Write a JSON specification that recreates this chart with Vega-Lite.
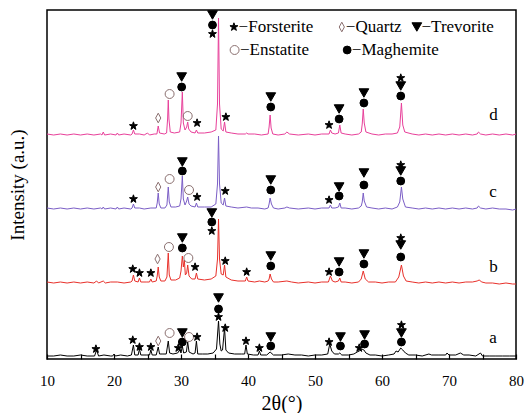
{
  "$schema": "https://vega.github.io/schema/vega-lite/v6.json",
  "width": 469,
  "height": 349,
  "autosize": {"type": "none"},
  "padding": {"left": 47, "top": 10, "right": 15, "bottom": 54},
  "background": "white",
  "config": {
    "view": {"stroke": "black", "strokeWidth": 1.5},
    "font": "Liberation Serif"
  },
  "datasets": {
    "d": [
      {"x":10,"y":225},{"x":11,"y":224},{"x":12,"y":225},{"x":13,"y":224},{"x":14,"y":225},{"x":15,"y":224},{"x":16,"y":225},{"x":17,"y":224},{"x":18,"y":225},{"x":18.2,"y":224},{"x":18.4,"y":227},{"x":18.6,"y":224},{"x":19.5,"y":225},{"x":20.3,"y":224},{"x":20.5,"y":226},{"x":20.7,"y":224},{"x":21.5,"y":225},{"x":22.5,"y":224},{"x":22.7,"y":225},{"x":22.9,"y":229},{"x":23.1,"y":225},{"x":23.8,"y":225},{"x":24.5,"y":224},{"x":25.0,"y":226},{"x":25.3,"y":224},{"x":26.0,"y":225},{"x":26.4,"y":225},{"x":26.6,"y":233},{"x":26.8,"y":226},{"x":27.5,"y":225},{"x":27.85,"y":226},{"x":28.0,"y":240},{"x":28.1,"y":259},{"x":28.2,"y":240},{"x":28.4,"y":227},{"x":29.0,"y":226},{"x":29.8,"y":227},{"x":30.0,"y":236},{"x":30.2,"y":267},{"x":30.35,"y":236},{"x":30.6,"y":229},{"x":30.85,"y":232},{"x":31.0,"y":237},{"x":31.15,"y":230},{"x":31.5,"y":227},{"x":32.1,"y":226},{"x":32.3,"y":229},{"x":32.5,"y":226},{"x":33.5,"y":226},{"x":34.5,"y":227},{"x":35.2,"y":229},{"x":35.45,"y":255},{"x":35.6,"y":341},{"x":35.75,"y":255},{"x":36.0,"y":230},{"x":36.3,"y":228},{"x":36.5,"y":237},{"x":36.7,"y":227},{"x":37.5,"y":226},{"x":38.5,"y":225},{"x":39.6,"y":225},{"x":39.8,"y":226},{"x":40.0,"y":225},{"x":41.0,"y":225},{"x":42.0,"y":224},{"x":43.0,"y":225},{"x":43.15,"y":232},{"x":43.3,"y":244},{"x":43.45,"y":231},{"x":43.7,"y":225},{"x":44.5,"y":224},{"x":45.5,"y":225},{"x":45.8,"y":227},{"x":46.2,"y":225},{"x":47.5,"y":224},{"x":49,"y":225},{"x":50,"y":224},{"x":51,"y":225},{"x":52.1,"y":225},{"x":52.3,"y":229},{"x":52.5,"y":226},{"x":53.0,"y":225},{"x":53.5,"y":226},{"x":53.7,"y":234},{"x":53.9,"y":226},{"x":54.5,"y":225},{"x":55.5,"y":224},{"x":56.5,"y":225},{"x":56.9,"y":227},{"x":57.05,"y":235},{"x":57.2,"y":250},{"x":57.35,"y":236},{"x":57.6,"y":227},{"x":58.5,"y":225},{"x":59.5,"y":224},{"x":60.5,"y":225},{"x":61.5,"y":225},{"x":62.3,"y":226},{"x":62.65,"y":232},{"x":62.9,"y":256},{"x":63.1,"y":234},{"x":63.4,"y":227},{"x":64.5,"y":225},{"x":65.5,"y":224},{"x":66.5,"y":225},{"x":67.5,"y":224},{"x":68.5,"y":225},{"x":69.5,"y":224},{"x":70.5,"y":225},{"x":71.5,"y":224},{"x":72.5,"y":225},{"x":73.5,"y":224},{"x":74.2,"y":225},{"x":74.4,"y":227},{"x":74.7,"y":225},{"x":75.5,"y":224},{"x":76.5,"y":225},{"x":77.5,"y":224},{"x":78.5,"y":225},{"x":79.5,"y":224},{"x":80,"y":225}
    ],
    "c": [
      {"x":10,"y":151},{"x":11,"y":150},{"x":12,"y":151},{"x":13,"y":150},{"x":14,"y":151},{"x":15,"y":150},{"x":16,"y":151},{"x":17,"y":150},{"x":18,"y":151},{"x":18.2,"y":150},{"x":18.4,"y":152},{"x":18.6,"y":150},{"x":19.5,"y":151},{"x":20.3,"y":150},{"x":20.5,"y":152},{"x":20.7,"y":150},{"x":21.5,"y":151},{"x":22.5,"y":150},{"x":22.7,"y":151},{"x":22.9,"y":155},{"x":23.1,"y":151},{"x":23.8,"y":151},{"x":24.5,"y":150},{"x":25.5,"y":151},{"x":26.3,"y":151},{"x":26.45,"y":156},{"x":26.6,"y":166},{"x":26.75,"y":155},{"x":27.0,"y":151},{"x":27.6,"y":151},{"x":27.9,"y":154},{"x":28.1,"y":172},{"x":28.25,"y":157},{"x":28.5,"y":152},{"x":29.2,"y":152},{"x":29.8,"y":153},{"x":30.0,"y":160},{"x":30.2,"y":183},{"x":30.35,"y":160},{"x":30.6,"y":154},{"x":30.85,"y":158},{"x":31.0,"y":162},{"x":31.2,"y":155},{"x":31.5,"y":153},{"x":32.1,"y":152},{"x":32.3,"y":156},{"x":32.5,"y":152},{"x":33.5,"y":152},{"x":34.5,"y":152},{"x":35.2,"y":155},{"x":35.45,"y":175},{"x":35.6,"y":223},{"x":35.75,"y":175},{"x":36.0,"y":156},{"x":36.3,"y":154},{"x":36.5,"y":161},{"x":36.7,"y":153},{"x":37.5,"y":152},{"x":38.5,"y":151},{"x":39.8,"y":152},{"x":40.5,"y":151},{"x":41.5,"y":151},{"x":42.5,"y":150},{"x":43.0,"y":151},{"x":43.15,"y":155},{"x":43.3,"y":161},{"x":43.5,"y":155},{"x":43.8,"y":151},{"x":44.5,"y":150},{"x":45.5,"y":151},{"x":45.8,"y":152},{"x":46.2,"y":151},{"x":47.5,"y":150},{"x":49,"y":151},{"x":50,"y":150},{"x":51,"y":151},{"x":52.1,"y":151},{"x":52.3,"y":154},{"x":52.5,"y":151},{"x":53.0,"y":151},{"x":53.5,"y":152},{"x":53.7,"y":156},{"x":53.9,"y":151},{"x":54.5,"y":151},{"x":55.5,"y":150},{"x":56.5,"y":151},{"x":56.9,"y":153},{"x":57.05,"y":157},{"x":57.2,"y":166},{"x":57.35,"y":158},{"x":57.7,"y":152},{"x":58.5,"y":151},{"x":59.5,"y":150},{"x":60.5,"y":151},{"x":61.5,"y":150},{"x":62.3,"y":152},{"x":62.65,"y":157},{"x":62.9,"y":172},{"x":63.1,"y":160},{"x":63.5,"y":152},{"x":64.5,"y":151},{"x":65.5,"y":150},{"x":66.5,"y":151},{"x":67.5,"y":150},{"x":68.5,"y":151},{"x":69.5,"y":150},{"x":70.5,"y":151},{"x":71.5,"y":150},{"x":72.5,"y":151},{"x":73.5,"y":150},{"x":74.2,"y":151},{"x":74.4,"y":153},{"x":74.7,"y":151},{"x":75.5,"y":150},{"x":76.5,"y":151},{"x":77.5,"y":150},{"x":78.5,"y":150},{"x":79.5,"y":149},{"x":80,"y":150}
    ],
    "b": [
      {"x":10,"y":77},{"x":11,"y":76},{"x":12,"y":77},{"x":13,"y":76},{"x":14,"y":77},{"x":15,"y":76},{"x":16,"y":77},{"x":17,"y":76},{"x":17.4,"y":78},{"x":17.7,"y":76},{"x":18.4,"y":78},{"x":18.7,"y":76},{"x":19.5,"y":77},{"x":20.5,"y":77},{"x":21.5,"y":76},{"x":22.5,"y":77},{"x":22.7,"y":78},{"x":22.9,"y":84},{"x":23.1,"y":78},{"x":23.6,"y":77},{"x":23.8,"y":81},{"x":24.0,"y":77},{"x":24.8,"y":77},{"x":25.3,"y":77},{"x":25.5,"y":80},{"x":25.7,"y":77},{"x":26.3,"y":78},{"x":26.45,"y":83},{"x":26.6,"y":92},{"x":26.75,"y":82},{"x":27.0,"y":78},{"x":27.6,"y":78},{"x":27.9,"y":82},{"x":28.1,"y":106},{"x":28.25,"y":84},{"x":28.5,"y":79},{"x":29.2,"y":79},{"x":29.8,"y":81},{"x":30.0,"y":88},{"x":30.2,"y":103},{"x":30.35,"y":92},{"x":30.5,"y":99},{"x":30.65,"y":84},{"x":30.85,"y":86},{"x":31.0,"y":94},{"x":31.2,"y":83},{"x":31.6,"y":80},{"x":32.1,"y":80},{"x":32.3,"y":86},{"x":32.5,"y":80},{"x":33.5,"y":79},{"x":34.5,"y":80},{"x":35.2,"y":83},{"x":35.45,"y":100},{"x":35.6,"y":140},{"x":35.75,"y":100},{"x":36.0,"y":85},{"x":36.3,"y":84},{"x":36.5,"y":94},{"x":36.7,"y":82},{"x":37.5,"y":79},{"x":38.5,"y":78},{"x":39.6,"y":78},{"x":39.8,"y":82},{"x":40.0,"y":78},{"x":41.0,"y":77},{"x":41.7,"y":78},{"x":42.5,"y":77},{"x":43.0,"y":78},{"x":43.15,"y":80},{"x":43.3,"y":85},{"x":43.5,"y":80},{"x":43.8,"y":77},{"x":44.5,"y":77},{"x":45.8,"y":78},{"x":46.5,"y":77},{"x":47.5,"y":76},{"x":49,"y":77},{"x":50,"y":76},{"x":51,"y":77},{"x":52.0,"y":77},{"x":52.3,"y":83},{"x":52.6,"y":78},{"x":53.0,"y":77},{"x":53.5,"y":78},{"x":53.7,"y":81},{"x":53.9,"y":77},{"x":54.5,"y":77},{"x":55.5,"y":76},{"x":56.5,"y":77},{"x":56.9,"y":80},{"x":57.2,"y":88},{"x":57.5,"y":80},{"x":58.0,"y":77},{"x":59.0,"y":77},{"x":60.0,"y":76},{"x":61,"y":77},{"x":62.0,"y":77},{"x":62.5,"y":82},{"x":62.9,"y":94},{"x":63.2,"y":83},{"x":63.6,"y":78},{"x":64.5,"y":77},{"x":65.5,"y":76},{"x":66.5,"y":77},{"x":67.5,"y":76},{"x":68.5,"y":77},{"x":69.5,"y":76},{"x":70.5,"y":77},{"x":71.5,"y":76},{"x":72.5,"y":77},{"x":73.5,"y":77},{"x":74.2,"y":78},{"x":74.5,"y":79},{"x":74.9,"y":77},{"x":75.5,"y":76},{"x":76.5,"y":76},{"x":77.5,"y":75},{"x":78.5,"y":76},{"x":79.5,"y":75},{"x":80,"y":75}
    ],
    "a": [
      {"x":10,"y":3},{"x":11,"y":3},{"x":12,"y":4},{"x":13,"y":3},{"x":14,"y":3},{"x":15,"y":4},{"x":16,"y":3},{"x":17.1,"y":3},{"x":17.4,"y":9},{"x":17.7,"y":3},{"x":18.5,"y":4},{"x":19.5,"y":3},{"x":19.8,"y":3},{"x":20.0,"y":5},{"x":20.2,"y":3},{"x":21.0,"y":4},{"x":22.0,"y":3},{"x":22.6,"y":4},{"x":22.9,"y":14},{"x":23.1,"y":4},{"x":23.6,"y":4},{"x":23.8,"y":10},{"x":24.0,"y":4},{"x":24.8,"y":4},{"x":25.3,"y":4},{"x":25.5,"y":9},{"x":25.7,"y":4},{"x":26.3,"y":4},{"x":26.6,"y":12},{"x":26.8,"y":5},{"x":27.3,"y":5},{"x":27.8,"y":5},{"x":28.1,"y":18},{"x":28.3,"y":6},{"x":28.8,"y":5},{"x":29.5,"y":6},{"x":29.8,"y":9},{"x":30.0,"y":6},{"x":30.2,"y":13},{"x":30.4,"y":6},{"x":30.8,"y":7},{"x":31.0,"y":17},{"x":31.2,"y":7},{"x":31.8,"y":5},{"x":32.1,"y":6},{"x":32.3,"y":18},{"x":32.5,"y":5},{"x":33.2,"y":5},{"x":34.0,"y":5},{"x":34.8,"y":6},{"x":35.3,"y":10},{"x":35.6,"y":38},{"x":35.8,"y":15},{"x":36.0,"y":8},{"x":36.2,"y":9},{"x":36.5,"y":31},{"x":36.7,"y":9},{"x":37.1,"y":6},{"x":38.0,"y":5},{"x":39.0,"y":5},{"x":39.5,"y":5},{"x":39.7,"y":14},{"x":39.9,"y":5},{"x":40.8,"y":4},{"x":41.5,"y":4},{"x":41.7,"y":8},{"x":41.9,"y":4},{"x":42.8,"y":4},{"x":43.3,"y":7},{"x":43.8,"y":4},{"x":45.0,"y":4},{"x":46.0,"y":5},{"x":47.0,"y":4},{"x":48.0,"y":4},{"x":49.0,"y":3},{"x":50.0,"y":4},{"x":51.0,"y":4},{"x":51.9,"y":5},{"x":52.2,"y":15},{"x":52.5,"y":8},{"x":52.9,"y":5},{"x":53.5,"y":5},{"x":53.7,"y":6},{"x":54.0,"y":4},{"x":55.0,"y":4},{"x":55.8,"y":5},{"x":56.3,"y":7},{"x":56.6,"y":8},{"x":57.0,"y":10},{"x":57.3,"y":9},{"x":57.6,"y":6},{"x":58.2,"y":4},{"x":59.0,"y":4},{"x":60.0,"y":3},{"x":61.0,"y":4},{"x":61.8,"y":5},{"x":62.1,"y":8},{"x":62.4,"y":7},{"x":62.8,"y":11},{"x":63.1,"y":9},{"x":63.5,"y":6},{"x":64.0,"y":4},{"x":65.0,"y":4},{"x":66.0,"y":3},{"x":67.0,"y":5},{"x":67.4,"y":4},{"x":68.5,"y":4},{"x":69.5,"y":4},{"x":69.7,"y":6},{"x":70.0,"y":4},{"x":71.0,"y":4},{"x":71.7,"y":6},{"x":72.2,"y":4},{"x":73.0,"y":4},{"x":74.0,"y":3},{"x":74.7,"y":6},{"x":75.0,"y":3},{"x":76.0,"y":3},{"x":77.0,"y":3},{"x":78.0,"y":3},{"x":79.0,"y":3},{"x":80,"y":3}
    ],
    "markers": [
      {"x":22.9,"y":233,"s":"star"},{"x":26.6,"y":241,"s":"dia"},{"x":28.3,"y":265,"s":"circ"},{"x":30.1,"y":282,"s":"tri"},{"x":30.1,"y":272,"s":"dot"},{"x":31.0,"y":243,"s":"circ"},{"x":32.4,"y":236,"s":"star"},{"x":34.7,"y":344,"s":"tri"},{"x":34.7,"y":334,"s":"dot"},{"x":34.7,"y":325,"s":"star"},{"x":36.7,"y":242,"s":"star"},{"x":43.4,"y":262,"s":"tri"},{"x":43.4,"y":252,"s":"dot"},{"x":52.1,"y":234,"s":"star"},{"x":53.6,"y":250,"s":"tri"},{"x":53.6,"y":240,"s":"dot"},{"x":57.3,"y":266,"s":"tri"},{"x":57.3,"y":256,"s":"dot"},{"x":62.8,"y":281,"s":"star"},{"x":62.8,"y":273,"s":"tri"},{"x":62.8,"y":263,"s":"dot"},
      {"x":22.9,"y":160,"s":"star"},{"x":26.6,"y":172,"s":"dia"},{"x":28.3,"y":180,"s":"circ"},{"x":30.2,"y":197,"s":"tri"},{"x":30.2,"y":188,"s":"dot"},{"x":31.2,"y":169,"s":"circ"},{"x":32.4,"y":162,"s":"star"},{"x":36.6,"y":168,"s":"star"},{"x":43.4,"y":179,"s":"tri"},{"x":43.4,"y":169,"s":"dot"},{"x":52.1,"y":159,"s":"star"},{"x":53.6,"y":172,"s":"tri"},{"x":53.6,"y":163,"s":"dot"},{"x":57.3,"y":186,"s":"tri"},{"x":57.3,"y":174,"s":"dot"},{"x":62.8,"y":194,"s":"star"},{"x":62.8,"y":188,"s":"tri"},{"x":62.8,"y":178,"s":"dot"},
      {"x":22.8,"y":90,"s":"star"},{"x":23.8,"y":86,"s":"star"},{"x":25.5,"y":86,"s":"star"},{"x":26.5,"y":100,"s":"dia"},{"x":28.2,"y":112,"s":"circ"},{"x":30.2,"y":121,"s":"tri"},{"x":30.2,"y":111,"s":"dot"},{"x":31.1,"y":101,"s":"circ"},{"x":32.1,"y":92,"s":"star"},{"x":34.6,"y":146,"s":"tri"},{"x":34.6,"y":137,"s":"dot"},{"x":34.6,"y":128,"s":"star"},{"x":36.6,"y":98,"s":"star"},{"x":39.8,"y":87,"s":"star"},{"x":43.4,"y":103,"s":"tri"},{"x":43.4,"y":93,"s":"dot"},{"x":52.1,"y":87,"s":"star"},{"x":53.6,"y":97,"s":"tri"},{"x":53.6,"y":87,"s":"dot"},{"x":57.3,"y":105,"s":"tri"},{"x":57.3,"y":95,"s":"dot"},{"x":62.8,"y":121,"s":"star"},{"x":62.8,"y":114,"s":"tri"},{"x":62.8,"y":102,"s":"dot"},
      {"x":17.3,"y":10,"s":"star"},{"x":22.8,"y":19,"s":"star"},{"x":23.8,"y":12,"s":"star"},{"x":25.5,"y":12,"s":"star"},{"x":26.6,"y":18,"s":"dia"},{"x":28.3,"y":26,"s":"circ"},{"x":29.6,"y":11,"s":"star"},{"x":30.2,"y":26,"s":"tri"},{"x":30.2,"y":17,"s":"dot"},{"x":31.2,"y":22,"s":"circ"},{"x":32.4,"y":22,"s":"star"},{"x":35.6,"y":61,"s":"tri"},{"x":35.6,"y":50,"s":"dot"},{"x":35.6,"y":42,"s":"star"},{"x":36.6,"y":31,"s":"star"},{"x":39.7,"y":18,"s":"star"},{"x":41.7,"y":11,"s":"star"},{"x":43.4,"y":22,"s":"tri"},{"x":43.4,"y":13,"s":"dot"},{"x":52.1,"y":17,"s":"star"},{"x":53.8,"y":22,"s":"tri"},{"x":53.8,"y":13,"s":"dot"},{"x":56.6,"y":11,"s":"star"},{"x":57.4,"y":24,"s":"tri"},{"x":57.4,"y":15,"s":"dot"},{"x":62.9,"y":34,"s":"star"},{"x":62.9,"y":26,"s":"tri"},{"x":62.9,"y":17,"s":"dot"},
      {"x":37.9,"y":332,"s":"star"},{"x":54.0,"y":332,"s":"dia"},{"x":65.2,"y":332,"s":"tri"},{"x":38.0,"y":309,"s":"circ"},{"x":54.8,"y":309,"s":"dot"}
    ],
    "labels": [
      {"x":38.6,"y":332,"t":"−Forsterite"},{"x":54.6,"y":332,"t":"−Quartz"},{"x":65.9,"y":332,"t":"−Trevorite"},{"x":38.8,"y":309,"t":"−Enstatite"},{"x":55.5,"y":309,"t":"−Maghemite"},
      {"x":76.0,"y":244,"t":"d"},{"x":76.0,"y":167,"t":"c"},{"x":76.0,"y":92,"t":"b"},{"x":76.0,"y":21,"t":"a"}
    ]
  },
  "encoding": {
    "x": {
      "field": "x", "type": "quantitative",
      "scale": {"domain": [10, 80], "nice": false, "zero": false},
      "axis": {
        "values": [10,15,20,25,30,35,40,45,50,55,60,65,70,75,80],
        "labelExpr": "datum.value % 10 === 0 ? datum.label : ''",
        "grid": false, "domain": false,
        "tickSize": -5, "tickColor": "black", "tickWidth": 1.2,
        "labelFont": "Liberation Serif", "labelFontSize": 15, "labelColor": "black", "labelPadding": 19,
        "labelFlush": false, "labelOverlap": false,
        "title": "2θ(°)", "titleFont": "Liberation Serif", "titleFontSize": 20, "titleFontWeight": "normal", "titleColor": "black", "titlePadding": 5
      }
    },
    "y": {
      "field": "y", "type": "quantitative",
      "scale": {"domain": [0, 349], "nice": false, "zero": false},
      "axis": {
        "labels": false, "ticks": false, "domain": false, "grid": false,
        "title": "Intensity (a.u.)", "titleFont": "Liberation Serif", "titleFontSize": 19, "titleFontWeight": "normal", "titleColor": "black", "titlePadding": 20
      }
    }
  },
  "layer": [
    {"data": {"name": "d"}, "mark": {"type": "line", "color": "#e8409a", "strokeWidth": 1}},
    {"data": {"name": "c"}, "mark": {"type": "line", "color": "#7b5ec6", "strokeWidth": 1}},
    {"data": {"name": "b"}, "mark": {"type": "line", "color": "#e8302a", "strokeWidth": 1}},
    {"data": {"name": "a"}, "mark": {"type": "line", "color": "black", "strokeWidth": 1}},
    {
      "data": {"name": "markers"},
      "mark": {"type": "point", "strokeWidth": 1, "opacity": 1},
      "encoding": {
        "shape": {"field": "s", "type": "nominal", "legend": null,
          "scale": {"domain": ["star","tri","dot","dia","circ"],
                    "range": ["M0,-1L0.235,-0.324L0.951,-0.309L0.38,0.124L0.588,0.809L0,0.4L-0.588,0.809L-0.38,0.124L-0.951,-0.309L-0.235,-0.324Z","triangle-down","circle","M0,-1.3L0.7,0L0,1.3L-0.7,0Z","circle"]}},
        "fill": {"field": "s", "type": "nominal", "legend": null,
          "scale": {"domain": ["star","tri","dot","dia","circ"], "range": ["black","black","black","transparent","transparent"]}},
        "stroke": {"field": "s", "type": "nominal", "legend": null,
          "scale": {"domain": ["star","tri","dot","dia","circ"], "range": ["black","black","black","#8b7070","#8b7070"]}},
        "size": {"field": "s", "type": "nominal", "legend": null,
          "scale": {"type": "ordinal", "domain": ["star","tri","dot","dia","circ"], "range": [70, 95, 62, 55, 80]}}
      }
    },
    {
      "data": {"name": "labels"},
      "mark": {"type": "text", "align": "left", "baseline": "middle", "font": "Liberation Serif", "fontSize": 17, "color": "black"},
      "encoding": {"text": {"field": "t", "type": "nominal"}}
    }
  ]
}
